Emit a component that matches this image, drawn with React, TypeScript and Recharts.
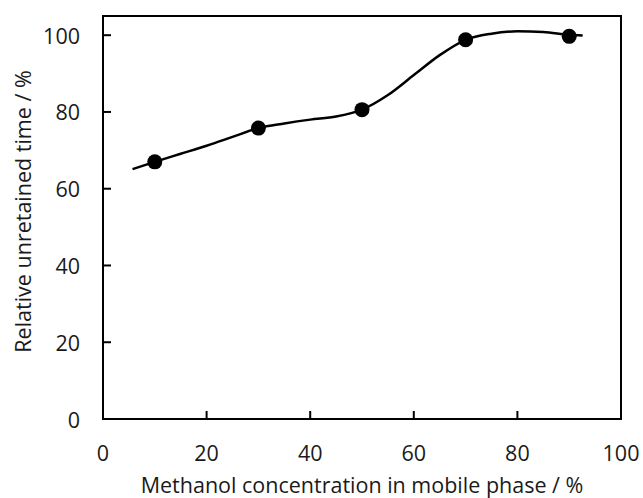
import {
  ComposedChart,
  Line,
  Scatter,
  XAxis,
  YAxis,
  ReferenceArea,
} from "recharts";

// measured points
const methanolPct = [10, 30, 50, 70, 90];
const relativeTime = [67, 75.8, 80.6, 98.8, 99.7];

// smooth trend line
const curveX = [5.7, 10, 15, 20, 25, 30, 35, 40, 45, 50, 55, 60, 65, 70, 75, 80, 85, 90, 92.6];
const curveY = [65.1, 67, 69.1, 71.2, 73.5, 75.8, 77, 78, 78.8, 80.6, 84.4, 89.6, 94.8, 98.8, 100.4, 101, 100.8, 100.1, 99.9];

const xTicks = [0, 20, 40, 60, 80, 100];
const yTicks = [0, 20, 40, 60, 80, 100];

const points = methanolPct.map((x, i) => ({ x, y: relativeTime[i] }));
const curve = curveX.map((x, i) => ({ x, y: curveY[i] }));

const FONT = "'Open Sans', 'Noto Sans', sans-serif";
const TEXT = "#1a1a1a";
const FS = 21.5;

function XTick(props: any) {
  const { x, y, payload } = props;
  return (
    <g>
      <line x1={x} y1={y} x2={x} y2={y - 8} stroke="#000" strokeWidth={2} />
      <text x={x} y={y + 33} textAnchor="middle" dominantBaseline="central" fontSize={FS} fill={TEXT} fontFamily={FONT}>
        {payload.value}
      </text>
    </g>
  );
}

function YTick(props: any) {
  const { x, y, payload } = props;
  return (
    <g>
      <line x1={x} y1={y} x2={x + 8} y2={y} stroke="#000" strokeWidth={2} />
      <text x={x - 23} y={y} textAnchor="end" dominantBaseline="central" fontSize={FS} fill={TEXT} fontFamily={FONT}>
        {payload.value}
      </text>
    </g>
  );
}

function Dot(props: any) {
  return <circle cx={props.cx} cy={props.cy} r={7.5} fill="#000" />;
}

export default function App() {
  return (
    <div style={{ position: "absolute", left: 0, top: 0, background: "#fff", fontFamily: FONT }}>
      <ComposedChart width={643} height={498} margin={{ top: 16, right: 22, bottom: 0, left: 0 }}>
        <XAxis
          type="number"
          dataKey="x"
          domain={[0, 100]}
          ticks={xTicks}
          tickLine={false}
          tickSize={0}
          tickMargin={0}
          tick={<XTick />}
          height={79}
          axisLine={{ stroke: "#000", strokeWidth: 2 }}
          label={{
            content: ({ viewBox }: any) => (
              <text
                x={viewBox.x + viewBox.width / 2}
                y={484}
                textAnchor="middle"
                dominantBaseline="central"
                fontSize={FS}
                fill={TEXT}
                fontFamily={FONT}
              >
                Methanol concentration in mobile phase / %
              </text>
            ),
          }}
        />
        <YAxis
          type="number"
          dataKey="y"
          domain={[0, 105]}
          ticks={yTicks}
          tickLine={false}
          tickSize={0}
          tickMargin={0}
          tick={<YTick />}
          width={103}
          axisLine={{ stroke: "#000", strokeWidth: 2 }}
          label={{
            content: ({ viewBox }: any) => {
              const cx = viewBox.x + 22;
              const cy = viewBox.y + viewBox.height / 2 - 6;
              return (
                <text
                  x={cx}
                  y={cy}
                  transform={`rotate(-90 ${cx} ${cy})`}
                  textAnchor="middle"
                  dominantBaseline="central"
                  fontSize={FS}
                  fill={TEXT}
                  fontFamily={FONT}
                >
                  Relative unretained time / %
                </text>
              );
            },
          }}
        />
        <ReferenceArea x1={0} x2={100} y1={0} y2={105} fill="none" stroke="#000" strokeWidth={2} ifOverflow="visible" />
        <Line
          data={curve}
          dataKey="y"
          type="monotone"
          stroke="#000"
          strokeWidth={2.5}
          dot={false}
          activeDot={false}
          isAnimationActive={false}
        />
        <Scatter data={points} dataKey="y" fill="#000" shape={<Dot />} isAnimationActive={false} />
      </ComposedChart>
    </div>
  );
}
